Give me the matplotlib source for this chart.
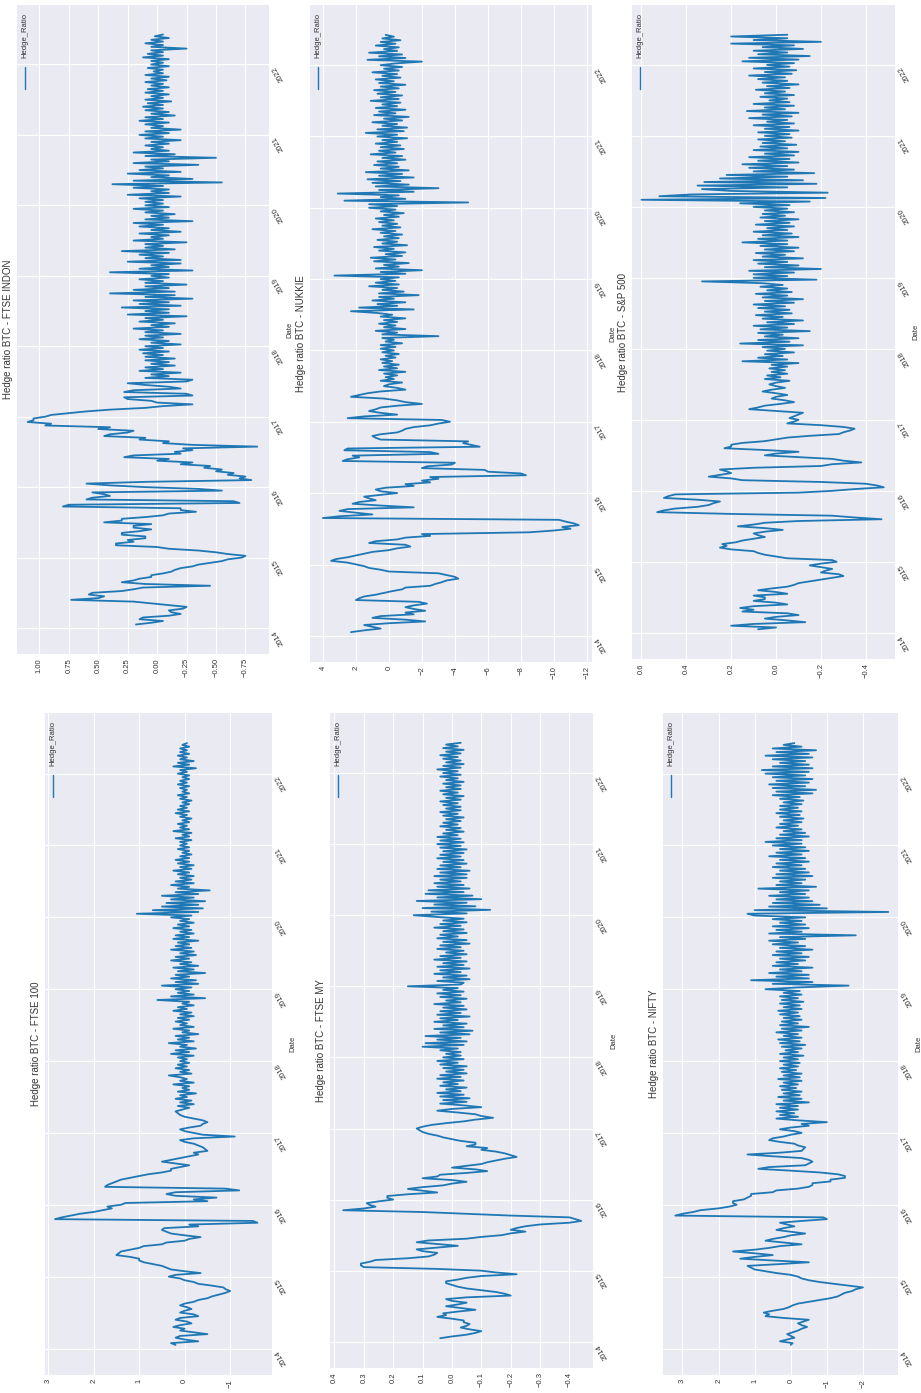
import pandas as pd
import matplotlib
matplotlib.use("Agg")
import matplotlib.pyplot as plt
import matplotlib.dates as mdates
from matplotlib.ticker import MultipleLocator, FuncFormatter
from matplotlib.lines import Line2D

plt.style.use("seaborn-v0_8-darkgrid")
plt.rcParams["font.family"] = ["Liberation Sans", "DejaVu Sans"]

# rolling hedge ratios, about every 9 days from Jan 2014 to Jun 2022
start_date = "2014-01-20"
end_date = "2022-06-05"

ftse_indon = [
    0.18, 0.05, -0.05, 0.15, 0.12, -0.1, -0.2, -0.12, -0.1, -0.22, -0.25, -0.1, 0.05, 0.2, 0.73, 0.5, 0.45, 0.58, 0.55, 0.3,
    0.2, 0.12, -0.45, 0.1, 0.3, 0.2, 0.15, 0.05, 0.05, -0.05, -0.12, -0.15, -0.2, -0.3, -0.35, -0.45, -0.55, -0.6, -0.72, -0.75,
    -0.6, -0.5, -0.35, -0.1, 0.0, 0.35, 0.35, 0.2, 0.25, 0.1, 0.1, 0.3, 0.3, 0.15, 0.05, 0.2, 0.2, 0.05, 0.45, 0.3,
    0.3, 0.1, -0.05, -0.1, -0.33, -0.2, -0.2, 0.8, 0.75, -0.7, -0.65, 0.6, 0.55, 0.4, 0.45, 0.55, -0.55, -0.35, 0.1, 0.4,
    0.6, 0.1, -0.8, -0.7, -0.75, -0.6, -0.65, -0.5, -0.55, -0.4, -0.45, -0.2, -0.3, 0.0, -0.1, 0.28, 0.2, -0.2, -0.15, -0.3,
    -0.22, -0.85, -0.3, -0.05, -0.1, 0.15, 0.1, 0.45, 0.4, 0.25, 0.2, 0.5, 0.4, 0.95, 0.9, 1.1, 1.05, 1.05, 0.95, 0.9,
    0.75, 0.6, 0.4, 0.1, -0.05, -0.3, 0.0, 0.05, 0.25, 0.28, -0.3, -0.25, 0.28, 0.2, -0.2, -0.1, 0.1, 0.25, -0.25, -0.3,
    0.1, -0.1, 0.05, -0.2, 0.15, -0.05, 0.1, -0.15, 0.05, -0.1, 0.1, -0.15, 0.1, -0.05, 0.12, -0.1, 0.15, -0.05, 0.1, -0.2,
    0.05, -0.1, 0.15, -0.05, 0.1, -0.2, 0.1, -0.05, 0.2, -0.1, 0.05, -0.15, 0.15, -0.05, 0.1, -0.25, 0.25, -0.1, 0.1, -0.1,
    0.3, -0.2, 0.15, -0.1, 0.2, -0.3, 0.1, -0.15, 0.4, -0.15, 0.2, -0.1, 0.1, -0.25, 0.1, -0.05, 0.15, -0.1, 0.05, -0.1,
    0.4, -0.3, 0.15, -0.1, 0.05, -0.2, 0.25, -0.2, 0.1, -0.05, 0.15, -0.1, 0.3, -0.15, 0.1, -0.05, 0.1, -0.25, 0.2, -0.05,
    0.05, -0.1, 0.15, -0.2, 0.05, -0.1, 0.15, -0.05, 0.2, -0.3, 0.1, -0.1, 0.05, -0.15, 0.1, -0.05, 0.2, -0.1, 0.1, -0.05,
    0.1, -0.05, 0.15, -0.2, 0.25, -0.1, 0.05, -0.1, 0.2, -0.05, 0.38, -0.55, 0.2, -0.3, 0.05, -0.1, 0.25, -0.2, 0.15, -0.05,
    0.1, -0.35, 0.2, -0.1, 0.05, -0.5, 0.1, -0.15, 0.2, -0.1, 0.05, -0.05, 0.1, -0.1, 0.05, -0.2, 0.1, -0.05, 0.15, -0.1,
    0.1, -0.2, 0.05, -0.05, 0.1, -0.1, 0.15, -0.05, 0.1, -0.15, 0.05, -0.1, 0.1, -0.05, 0.12, -0.05, 0.08, -0.12, 0.1, -0.05,
    0.05, -0.1, 0.1, -0.05, 0.08, -0.1, 0.05, -0.05, 0.1, -0.08, 0.05, -0.1, 0.1, -0.05, 0.03, -0.05, 0.08, -0.1, 0.05, -0.05,
    0.05, -0.1, 0.12, -0.05, 0.08, -0.05, 0.05, -0.25, 0.05, -0.05, 0.1, -0.05, 0.05, -0.1, 0.02, -0.05,
]

nukkie = [
    2.3, 1.5, 0.5, 1.0, 1.5, 0.0, -2.2, -1.0, 1.0, 0.5, -1.5, -1.0, -2.2, -1.5, -1.0, -1.5, -2.3, -1.8, 2.0, 1.8,
    1.5, 0.8, 0.3, -0.2, -0.8, -1.0, -2.5, -2.8, -3.2, -3.5, -4.2, -4.0, -3.5, -3.0, 0.0, 0.5, 1.2, 1.5, 2.0, 2.5,
    3.5, 3.2, 2.5, 2.0, 1.5, 1.0, 0.0, -0.5, -1.3, -1.0, 1.2, 0.8, -0.5, -1.0, -2.5, -2.0, -8.5, -10.0, -11.0, -10.5,
    -11.5, -11.2, -10.7, -10.3, 4.0, 3.0, 1.0, 2.0, 3.0, 2.5, -1.5, 0.5, 2.2, 1.8, 0.8, 1.2, 1.5, 0.5, -0.5, 0.5,
    0.8, 0.2, -1.5, -1.0, -2.5, -2.0, -3.0, -2.5, -8.3, -8.0, -6.0, -5.8, -2.0, -2.3, -3.8, -4.0, 2.8, 2.5, 1.8, 2.2,
    -3.0, -2.5, 2.7, 2.5, -5.5, -5.0, -4.5, -4.8, 0.5, 0.8, 1.0, 0.5, -0.5, -0.8, -1.0, -1.5, -2.5, -3.0, -3.7, -3.2,
    2.5, 1.5, -0.5, 0.5, 1.2, 0.8, 0.5, -0.5, -2.0, -1.0, -0.5, 0.3, 2.3, 1.8, 1.3, 0.5, -1.0, -0.5, 0.3, 0.0,
    -0.8, 0.5, -0.3, 0.2, -0.5, 0.3, -1.0, 0.6, -0.5, 0.3, -0.6, 0.4, -0.2, 0.5, -0.4, 0.2, -0.6, 0.4, -0.3, 0.5,
    -0.4, 0.5, -0.8, 0.2, -0.3, 0.4, -3.0, 0.4, -0.5, 0.8, -1.0, 0.3, -0.4, 0.6, -0.5, 0.3, -1.0, 0.5, -0.2, 0.7,
    2.3, -1.5, 1.8, -0.5, 0.7, -1.0, 1.0, -0.3, 0.6, -1.8, 0.6, -0.9, 0.4, -0.5, 1.2, -0.6, 0.8, -0.4, 0.5, -0.6,
    3.3, -1.0, 0.5, -2.0, 0.8, -0.6, 0.3, -1.2, 0.9, -0.4, 1.1, -0.8, 0.2, -1.0, 0.6, -0.3, 0.9, -1.1, 0.4, -0.5,
    0.7, -0.6, 0.3, -0.8, 0.5, -0.4, 1.0, -0.7, 0.4, -0.5, 0.6, -0.3, 0.8, -0.6, 0.3, -0.9, 0.5, -0.4, 1.2, -0.5,
    1.2, -4.8, 2.7, -1.0, 0.5, -0.6, 3.1, -1.5, 0.6, -3.0, 0.8, -1.2, 1.0, -0.7, 1.3, -1.5, 0.6, -0.8, 1.4, -1.2,
    0.5, -0.6, 0.9, -0.5, 0.7, -1.0, 0.4, -0.8, 1.1, -0.4, 0.6, -0.9, 0.5, -0.7, 0.8, -0.5, 0.4, -1.1, 0.7, -0.5,
    1.4, -0.9, 0.7, -1.1, 0.4, -0.5, 1.0, -0.8, 0.3, -1.2, 0.9, -0.4, 0.6, -1.0, 0.8, -0.5, 0.4, -0.7, 1.1, -0.6,
    0.5, -0.8, 0.7, -0.4, 0.9, -0.6, 0.5, -1.0, 0.6, -0.3, 0.8, -0.7, 0.4, -0.5, 1.0, -0.6, 0.3, -0.8, 0.5, -0.4,
    -2.0, 1.3, -1.0, 0.6, -0.8, 1.2, -0.5, 0.3, -0.6, 0.8, -0.4, 0.5, -0.7, 0.4, -0.3, 0.2,
]

sp500 = [
    0.08, 0.0, 0.2, 0.1, -0.13, -0.05, 0.05, 0.0, -0.1, -0.05, 0.15, 0.1, 0.16, 0.1, -0.05, 0.0, 0.1, 0.05, 0.05, 0.1,
    -0.05, 0.0, 0.08, 0.02, -0.05, -0.08, -0.1, -0.15, -0.2, -0.25, -0.3, -0.28, -0.2, -0.22, -0.25, -0.2, -0.15, -0.2, -0.27, -0.25,
    -0.05, 0.0, 0.05, 0.08, 0.1, 0.2, 0.25, 0.22, 0.24, 0.18, 0.15, 0.1, 0.05, 0.08, 0.1, 0.05, -0.03, 0.05, 0.17, 0.1,
    0.05, -0.1, -0.47, -0.35, -0.25, 0.2, 0.53, 0.5, 0.45, 0.35, 0.3, 0.28, 0.25, 0.35, 0.5, 0.48, 0.45, -0.1, -0.25, -0.35,
    -0.48, -0.45, -0.4, -0.2, 0.15, 0.2, 0.3, 0.25, 0.2, 0.22, 0.25, 0.1, -0.2, -0.25, -0.38, -0.3, -0.25, -0.1, 0.05, 0.0,
    -0.1, 0.05, 0.23, 0.2, 0.2, 0.15, 0.05, 0.0, -0.05, -0.15, -0.28, -0.3, -0.33, -0.35, -0.3, -0.2, -0.05, -0.08, -0.1, -0.06,
    -0.08, -0.1, -0.12, 0.0, 0.12, 0.08, 0.05, -0.02, -0.08, -0.04, 0.02, 0.0, -0.05, 0.0, 0.06, 0.02, -0.04, 0.0, 0.03, 0.0,
    -0.06, 0.05, -0.02, 0.04, -0.05, 0.02, -0.04, 0.03, -0.05, 0.02, -0.1, 0.15, -0.05, 0.08, -0.03, 0.05, -0.08, 0.04, -0.04, 0.06,
    -0.12, 0.16, -0.06, 0.08, -0.1, 0.05, -0.03, 0.08, -0.15, 0.07, -0.05, 0.1, -0.08, 0.04, -0.12, 0.06, -0.03, 0.09, -0.07, 0.05,
    -0.06, 0.08, -0.04, 0.1, -0.08, 0.05, -0.12, 0.06, -0.05, 0.09, -0.07, 0.04, -0.05, 0.07, -0.03, 0.06, 0.33, -0.18, 0.1, -0.05,
    0.1, -0.08, 0.12, -0.2, 0.05, -0.1, 0.08, -0.05, 0.1, -0.12, 0.06, -0.04, 0.09, -0.08, 0.05, -0.1, 0.07, -0.05, 0.15, -0.05,
    0.08, -0.1, 0.06, -0.07, 0.1, -0.05, 0.04, -0.08, 0.09, -0.06, 0.05, -0.1, 0.07, -0.04, 0.06, -0.08, 0.05, -0.05, 0.1, -0.06,
    0.16, -0.15, 0.6, -0.22, 0.52, 0.38, -0.23, 0.2, 0.33, -0.05, 0.35, -0.18, 0.32, -0.12, 0.25, -0.05, 0.22, -0.17, 0.1, -0.08,
    0.12, -0.05, 0.15, -0.1, 0.08, -0.06, 0.12, -0.08, 0.05, -0.1, 0.1, -0.05, 0.07, -0.09, 0.06, -0.04, 0.08, -0.07, 0.05, -0.06,
    0.08, -0.1, 0.05, -0.06, 0.1, -0.08, 0.04, -0.05, 0.12, -0.07, 0.06, -0.1, 0.13, -0.04, 0.05, -0.08, 0.1, -0.06, 0.03, -0.05,
    0.07, -0.08, 0.05, -0.04, 0.09, -0.06, 0.04, -0.1, 0.06, -0.05, 0.08, -0.04, 0.12, -0.07, 0.05, -0.09, 0.1, -0.06, 0.04, -0.08,
    0.15, -0.1, 0.12, -0.15, 0.08, -0.05, 0.1, -0.12, 0.06, -0.08, 0.2, -0.2, 0.1, -0.05, 0.2, -0.05,
]

ftse_100 = [
    0.2, 0.3, -0.3, 0.0, 0.2, 0.1, -0.5, -0.2, 0.1, 0.0, 0.25, 0.1, -0.15, -0.05, 0.2, 0.1, -0.3, -0.2, 0.1, 0.0,
    -0.15, -0.05, 0.1, 0.0, -0.2, -0.3, -0.5, -0.6, -0.75, -0.9, -1.0, -0.9, -0.85, -0.6, -0.3, -0.2, 0.0, 0.1, 0.35, 0.2,
    -0.35, 0.0, 0.3, 0.4, 0.5, 0.7, 0.9, 1.0, 1.0, 1.2, 1.5, 1.45, 1.4, 1.2, 1.0, 0.9, 0.5, 0.4, 0.0, -0.1,
    -0.35, 0.0, 0.3, 0.4, 0.5, 0.45, -0.3, -0.1, -1.6, -1.5, 2.85, 2.7, 2.5, 2.3, 2.0, 1.8, 1.6, 1.7, 1.4, 1.3,
    -0.5, -0.2, -0.7, 0.2, 0.4, 0.2, -1.2, -0.9, 1.75, 1.7, 1.6, 1.5, 1.4, 1.2, 1.0, 0.8, 0.5, 0.3, 0.3, 0.1,
    -0.1, 0.2, 0.5, 0.3, 0.1, -0.1, -0.3, -0.2, -0.5, -0.45, -0.4, -0.3, -0.2, 0.0, 0.1, -0.2, -1.1, -0.4, -0.2, 0.0,
    0.1, -0.1, -0.35, -0.4, -0.5, -0.4, -0.2, 0.0, 0.1, 0.15, 0.2, 0.05, -0.1, 0.15, -0.2, 0.1, -0.15, 0.2, -0.05, 0.1,
    -0.25, 0.15, -0.1, 0.05, -0.1, 0.25, -0.2, 0.1, -0.05, 0.1, 0.35, -0.15, 0.1, -0.1, 0.2, -0.05, 0.15, -0.1, 0.1, -0.05,
    0.15, -0.2, 0.3, -0.1, 0.2, -0.25, 0.1, -0.05, 0.35, -0.2, 0.15, -0.1, 0.2, -0.3, 0.05, -0.1, 0.25, -0.2, 0.1, -0.05,
    0.2, -0.1, 0.15, -0.2, 0.1, -0.15, 0.25, -0.05, 0.15, -0.2, 0.05, -0.1, 0.6, -0.45, 0.3, -0.2, 0.15, -0.1, 0.2, -0.15,
    0.5, -0.3, 0.2, -0.25, 0.3, -0.1, 0.2, -0.45, 0.15, -0.2, 0.25, -0.3, 0.1, -0.15, 0.3, -0.1, 0.2, -0.25, 0.1, -0.2,
    0.3, -0.15, 0.2, -0.1, 0.15, -0.3, 0.25, -0.1, 0.2, -0.2, 0.1, -0.15, 0.25, -0.1, 0.15, -0.2, 0.1, -0.1, 0.3, -0.15,
    1.05, -0.3, 0.7, -0.4, 0.5, -0.3, 0.4, -0.45, 0.3, -0.2, 0.5, -0.3, 0.2, -0.55, 0.15, -0.1, 0.3, -0.2, 0.2, -0.15,
    0.1, -0.2, 0.15, -0.1, 0.25, -0.15, 0.1, -0.2, 0.15, -0.1, 0.2, -0.1, 0.1, -0.15, 0.05, -0.1, 0.15, -0.1, 0.1, -0.05,
    0.1, -0.15, 0.2, -0.1, 0.05, -0.15, 0.25, -0.1, 0.1, -0.05, 0.15, -0.1, 0.05, -0.15, 0.1, -0.05, 0.2, -0.1, 0.15, -0.05,
    0.1, -0.1, 0.05, -0.15, 0.1, -0.05, 0.15, -0.1, 0.05, -0.05, 0.1, -0.1, 0.15, -0.05, 0.1, -0.1, 0.05, -0.1, 0.15, -0.05,
    0.1, -0.25, 0.25, -0.1, 0.15, -0.2, 0.1, -0.05, 0.15, -0.1, 0.1, -0.05, 0.1, -0.1, 0.05, -0.05,
]

ftse_my = [
    0.04, 0.0, -0.05, -0.08, -0.1, -0.06, -0.03, -0.05, -0.06, -0.04, -0.04, 0.0, 0.05, 0.02, 0.03, -0.02, -0.08, -0.03, 0.02, -0.02,
    -0.05, 0.0, 0.02, -0.05, -0.2, -0.18, -0.15, -0.1, -0.05, -0.02, 0.0, 0.02, 0.02, -0.02, -0.05, -0.1, -0.22, -0.15, -0.1, 0.05,
    0.3, 0.31, 0.31, 0.28, 0.26, 0.15, 0.08, 0.06, 0.05, 0.1, 0.12, 0.05, -0.02, 0.05, 0.12, 0.08, -0.05, -0.1, -0.17, -0.2,
    -0.25, -0.2, -0.22, -0.25, -0.3, -0.4, -0.44, -0.42, -0.4, -0.2, -0.05, 0.1, 0.37, 0.3, 0.26, 0.28, 0.29, 0.25, 0.2, 0.22,
    0.22, 0.15, 0.05, 0.1, 0.15, 0.1, 0.03, 0.0, -0.05, 0.0, 0.1, 0.05, 0.04, -0.05, -0.12, -0.08, 0.0, -0.05, -0.1, -0.12,
    -0.15, -0.18, -0.22, -0.2, -0.18, -0.15, -0.1, -0.12, -0.05, -0.08, -0.08, -0.03, 0.0, 0.03, 0.05, 0.08, 0.1, 0.11, 0.12, 0.1,
    0.07, 0.02, -0.04, -0.08, -0.14, -0.1, -0.08, -0.02, 0.05, 0.0, -0.1, -0.04, 0.04, -0.05, 0.03, -0.06, 0.04, -0.04, 0.05, -0.03,
    0.02, -0.05, 0.04, -0.02, 0.03, -0.04, 0.05, -0.03, 0.04, -0.05, 0.02, -0.04, 0.03, -0.05, 0.04, -0.02, 0.05, -0.04, 0.03, -0.03,
    0.02, -0.03, 0.04, -0.02, 0.1, -0.04, 0.09, -0.05, 0.05, -0.03, 0.09, -0.06, 0.04, -0.07, 0.06, -0.04, 0.03, -0.05, 0.06, -0.02,
    0.04, -0.06, 0.05, -0.03, 0.04, -0.05, 0.03, -0.04, 0.06, -0.03, 0.02, -0.05, 0.04, -0.03, 0.05, -0.04, 0.03, -0.02, 0.15, -0.03,
    -0.04, 0.05, -0.06, 0.03, -0.05, 0.06, -0.03, 0.04, -0.06, 0.05, -0.04, 0.03, -0.05, 0.06, -0.03, 0.04, -0.05, 0.02, -0.04, 0.05,
    -0.03, 0.04, -0.06, 0.03, -0.05, 0.05, -0.02, 0.04, -0.05, 0.03, -0.04, 0.06, -0.03, 0.04, -0.05, 0.03, -0.04, 0.05, 0.13, -0.05,
    0.07, -0.13, 0.1, -0.08, 0.06, -0.05, 0.12, -0.1, 0.05, -0.07, 0.09, -0.04, 0.08, -0.06, 0.05, -0.04, 0.06, -0.03, 0.04, -0.05,
    0.06, -0.05, 0.04, -0.06, 0.05, -0.03, 0.04, -0.05, 0.03, -0.04, 0.05, -0.03, 0.04, -0.04, 0.03, -0.05, 0.04, -0.03, 0.05, -0.04,
    0.04, -0.03, 0.05, -0.02, 0.03, -0.04, 0.02, -0.03, 0.04, -0.02, 0.03, -0.03, 0.02, -0.04, 0.03, -0.02, 0.04, -0.03, 0.02, -0.03,
    0.03, -0.02, 0.04, -0.03, 0.02, -0.04, 0.03, -0.02, 0.04, -0.03, 0.02, -0.03, 0.03, -0.04, 0.02, -0.02, 0.04, -0.03, 0.03, -0.02,
    0.05, -0.03, 0.03, -0.04, 0.02, -0.03, 0.03, -0.02, 0.04, -0.03, 0.02, -0.04, 0.03, -0.02, 0.02, -0.03,
]

nifty = [
    0.0, -0.05, 0.3, 0.1, -0.1, 0.0, 0.1, -0.05, -0.2, -0.3, -0.45, -0.3, -0.2, -0.35, -0.5, 0.2, 0.7, 0.6, 0.75, 0.5,
    0.2, 0.05, -0.05, -0.2, -0.5, -0.8, -1.1, -1.3, -1.4, -1.5, -1.7, -1.8, -2.0, -1.6, -1.2, -0.8, -0.5, -0.3, -0.2, 0.0,
    0.4, 0.7, 1.0, 1.1, 1.2, 0.3, -0.5, 0.5, 1.4, 1.0, 0.5, 1.0, 1.6, 1.0, 0.6, 0.3, -0.3, 0.2, 0.7, 0.5,
    0.2, 0.0, -0.4, 0.0, 0.4, 0.2, -0.1, 0.1, 0.3, -0.3, -1.0, -0.9, 3.2, 3.0, 2.7, 2.5, 2.0, 1.7, 1.5, 1.6,
    1.6, 1.3, 1.2, 1.1, 1.1, 0.5, 0.4, -0.2, -0.5, -0.6, -0.6, -1.1, -1.1, -1.5, -1.5, -1.3, -0.8, 0.0, 0.9, 0.6,
    -0.4, -0.5, -0.6, -0.5, -0.3, 0.5, 1.2, 0.3, -0.3, -0.35, -0.4, -0.2, -0.1, 0.3, 0.6, 0.5, 0.2, 0.0, -0.3, -0.1,
    0.3, 0.0, -0.5, -0.3, -1.0, -0.2, 0.4, -0.2, 0.3, -0.1, 0.4, -0.2, 0.3, -0.2, 0.4, -0.5, 0.2, -0.3, 0.35, -0.25,
    0.2, -0.3, 0.25, -0.15, 0.3, -0.2, 0.2, -0.3, 0.35, -0.25, 0.2, -0.3, 0.25, -0.15, 0.3, -0.2, 0.2, -0.25, 0.3, -0.2,
    0.2, -0.35, 0.3, -0.2, 0.15, -0.3, 0.25, -0.4, 0.3, -0.25, 0.35, -0.3, 0.2, -0.2, 0.4, -0.3, 0.25, -0.5, 0.3, -0.2,
    0.25, -0.3, 0.2, -0.25, 0.3, -0.2, 0.35, -0.3, 0.2, -0.25, 0.3, -0.35, 0.25, -0.2, 0.3, -0.3, 0.2, -0.25, 0.7, -0.2,
    -1.6, 0.5, -0.6, 1.1, -0.5, 0.4, -0.5, 0.6, -0.3, 0.3, -0.6, 0.5, -0.2, 0.4, -0.4, 0.3, -0.5, 0.5, -0.3, 0.4,
    -0.6, 0.3, -0.4, 0.5, -0.2, 0.6, -0.4, 0.3, -1.8, 0.6, -0.3, 0.4, -0.5, 0.5, -0.4, 0.3, -0.3, 0.5, -0.4, 1.0,
    1.2, -2.7, 1.0, -1.0, 0.6, -0.8, 0.5, -0.6, 0.4, -0.5, 0.6, -0.4, 0.3, -0.5, 0.9, -0.7, 0.4, -0.3, 0.3, -0.4,
    0.5, -0.6, 0.4, -0.5, 0.3, -0.4, 0.5, -0.3, 0.4, -0.5, 0.3, -0.4, 0.6, -0.3, 0.4, -0.5, 0.3, -0.4, 0.5, -0.3,
    0.7, -0.3, 0.4, -0.5, 0.3, -0.4, 0.2, -0.3, 0.4, -0.2, 0.3, -0.3, 0.2, -0.35, 0.3, -0.25, 0.4, -0.3, 0.3, -0.2,
    0.3, -0.3, 0.2, -0.35, 0.3, -0.25, 0.5, -0.6, 0.4, -0.7, 0.5, -0.4, 0.6, -0.5, 0.4, -0.6, 0.5, -0.4, 0.7, -0.5,
    0.8, -0.6, 0.5, -0.5, 0.3, -0.4, 0.5, -0.6, 0.7, -0.5, 0.4, -0.7, 0.5, -0.3, 0.2, -0.1,
]

W, H = 921, 1393
fig = plt.figure(figsize=(W / 100, H / 100), dpi=100)

# title, series, box in pixels (left, top, right, bottom), value range, tick step, decimals
panels = [
    ("Hedge ratio BTC - FTSE INDON", ftse_indon, (17, 5, 269, 654), (1.19, -0.95), 0.25, 2),
    ("Hedge ratio BTC - NUKKIE", nukkie, (310, 5, 592, 662), (4.78, -12.3), 2, 0),
    ("Hedge ratio BTC - S&P 500", sp500, (632, 5, 895, 659), (0.642, -0.53), 0.2, 1),
    ("Hedge ratio BTC - FTSE 100", ftse_100, (45, 713, 272, 1375), (3.07, -1.92), 1, 0),
    ("Hedge ratio BTC - FTSE MY", ftse_my, (330, 713, 593, 1368), (0.415, -0.48), 0.1, 1),
    ("Hedge ratio BTC - NIFTY", nifty, (663, 713, 898, 1375), (3.54, -2.97), 1, 0),
]

text_col = "#333333"
line_col = "#1f77b4"


def fmt_value(decimals):
    return FuncFormatter(lambda v, pos: f"{v:.{decimals}f}".replace("-", "\u2212"))


for title, vals, (x0, y0, x1, y1), (hi, lo), step, dec in panels:
    ax = fig.add_axes([x0 / W, 1 - y1 / H, (x1 - x0) / W, (y1 - y0) / H])
    dates = pd.date_range(start_date, end_date, periods=len(vals))
    ax.plot(vals, dates, color=line_col, lw=1.3)

    # hedge ratio runs across (high on the left), time runs upward
    ax.set_xlim(hi, lo)
    ax.xaxis.set_major_locator(MultipleLocator(step))
    ax.xaxis.set_major_formatter(fmt_value(dec))
    ax.yaxis.set_major_locator(mdates.YearLocator())
    ax.yaxis.set_major_formatter(mdates.DateFormatter("%Y"))
    ax.yaxis.tick_right()
    ax.yaxis.set_label_position("right")

    ax.grid(True, color="white", lw=0.8)
    ax.tick_params(axis="x", labelrotation=90, labelsize=5.5, pad=3, colors=text_col)
    ax.tick_params(axis="y", labelrotation=120, labelsize=5.5, pad=1.5, colors=text_col)
    plt.setp(ax.get_yticklabels(), ha="left", va="top")
    ax.set_ylabel("Date", fontsize=5.5, color=text_col, rotation=90, labelpad=0.5)

    ax.annotate(title, xy=(0, 0.5), xycoords="axes fraction", xytext=(-3, 0),
                textcoords="offset points", rotation=90, ha="right", va="center",
                fontsize=7, color=text_col)

    # legend key: short line under the label, top-left corner
    h_px = y1 - y0
    lx = 8 / (x1 - x0)
    ax.add_line(Line2D([lx, lx], [1 - 62 / h_px, 1 - 84 / h_px], transform=ax.transAxes,
                       color=line_col, lw=1.0))
    ax.text(lx, 1 - 8 / h_px, "Hedge_Ratio", transform=ax.transAxes, rotation=90,
            ha="center", va="top", fontsize=5.5, color=text_col)

fig.savefig("out.png", dpi=100)
